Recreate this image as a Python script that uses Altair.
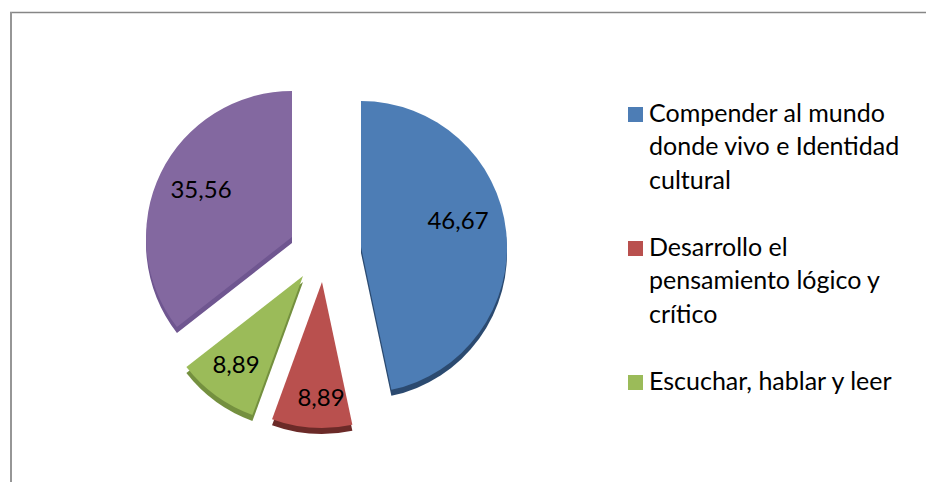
import altair as alt
import pandas as pd

categories = ["Compender al mundo donde vivo e Identidad cultural",
              "Desarrollo el pensamiento lógico y crítico",
              "Escuchar, hablar y leer",
              "Otros"]
values = [46.67, 8.89, 8.89, 35.56]
value_labels = ["46,67", "8,89", "8,89", "35,56"]
colors = ["#4D7DB5", "#B9504E", "#9BBB59", "#8368A0"]
edge_colors = ["#2B4A70", "#6B2A28", "#74903F", "#6F5690"]
legend_labels = ["Compender al mundo\ndonde vivo e Identidad\ncultural",
                 "Desarrollo el\npensamiento lógico y\ncrítico",
                 "Escuchar, hablar y leer"]

df = pd.DataFrame({"cat": categories, "value": values, "label": value_labels})
df["end"] = df["value"].cumsum()
df["start"] = df["end"] - df["value"]

total = sum(values)
theta_scale = alt.Scale(domain=[0, total], range=[0, 6.28318530718])
color_scale = alt.Scale(domain=categories, range=colors)
edge_scale = alt.Scale(domain=categories, range=edge_colors)

# layout of the exploded slices: centre in the chart's frame (page minus 8px margin)
centres = [(353, 239), (314, 274), (295, 268), (284, 229)]
radii = [146, 146, 148, 146]
text_pos = [(450, 214), (313, 391), (228, 358), (193, 183)]
DEPTH = 6

layers = []
base = alt.Chart(df)
for i, cat in enumerate(categories):
    cx, cy = centres[i]
    d = base.transform_filter(alt.datum.cat == cat)
    layers.append(d.mark_arc(outerRadius=radii[i], x=cx, y=cy + DEPTH).encode(
        theta=alt.Theta("start:Q", scale=theta_scale),
        theta2="end:Q",
        color=alt.Color("cat:N", scale=edge_scale, legend=None)))
for i, cat in enumerate(categories):
    cx, cy = centres[i]
    d = base.transform_filter(alt.datum.cat == cat)
    layers.append(d.mark_arc(outerRadius=radii[i], x=cx, y=cy).encode(
        theta=alt.Theta("start:Q", scale=theta_scale),
        theta2="end:Q",
        fill=alt.Fill("cat:N", scale=color_scale, legend=None)))
for i, cat in enumerate(categories):
    tx, ty = text_pos[i]
    d = base.transform_filter(alt.datum.cat == cat)
    layers.append(d.mark_text(x=tx, y=ty, font="Lato", fontSize=24, color="#000000",
                              align="center", baseline="middle").encode(text="label:N"))

leg = pd.DataFrame({"cat": categories[:3], "text": legend_labels})
legend_y = alt.Y("cat:N", scale=alt.Scale(type="point", domain=categories[:3],
                                          range=[106.5, 374.5], padding=0), axis=None)
layers.append(alt.Chart(leg).mark_square(size=225, opacity=1, x=627.5).encode(
    y=legend_y,
    fill=alt.Fill("cat:N", scale=color_scale, legend=None)))
layers.append(alt.Chart(leg).mark_text(x=641, align="left", baseline="alphabetic", dy=7,
                                       font="Lato", fontSize=25, lineHeight=33.5,
                                       lineBreak="\n", color="#000000").encode(
    y=legend_y, text="text:N"))

frame_top = alt.Chart(pd.DataFrame({"a": [0]})).mark_rule(color="#868686", strokeWidth=1.5).encode(
    x=alt.value(2), x2=alt.value(918), y=alt.value(4.5))
frame_left = alt.Chart(pd.DataFrame({"a": [0]})).mark_rule(color="#969696", strokeWidth=2).encode(
    x=alt.value(3), y=alt.value(4), y2=alt.value(474))

chart = alt.layer(frame_top, frame_left, *layers).resolve_scale(
    color="independent", fill="shared", theta="shared"
).properties(
    width=918, height=474, padding=0,
    autosize=alt.AutoSizeParams(type="none"),
    background="white"
).configure_view(stroke=None)

chart.save("out.html", embed_options={"renderer": "svg", "actions": False})
